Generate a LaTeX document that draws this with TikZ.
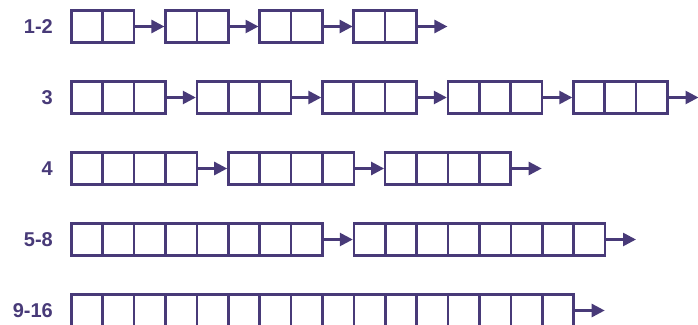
\documentclass[tikz,border=0pt]{standalone}
\usepackage{fontspec}
\setmainfont{Liberation Sans}
\usetikzlibrary{arrows.meta,calc}
\definecolor{listpurple}{RGB}{72,58,120}

\begin{document}
\begin{tikzpicture}[x=1pt, y=1pt,
  block/.style={draw=listpurple, line width=2.6pt, inner sep=0pt, outer sep=0pt,
                minimum height=32pt},
  divider/.style={listpurple, line width=2.6pt},
  arrow/.style={-{Triangle[length=13pt,width=13pt]}, line width=2.6pt, listpurple,
                shorten >=1pt},
  tag/.style={font=\bfseries\fontsize{20}{20}\selectfont, text=listpurple,
              anchor=east, inner sep=0pt},
]
\useasboundingbox (0,0) rectangle (698,-324);
\clip (0,0) rectangle (698,-324);

% one row per size class: label / cells per block / number of blocks
\foreach \lab/\n/\k [count=\i] in {1-2/2/4, 3/3/5, 4/4/3, 5-8/8/2, 9-16/16/1}{
  \pgfmathsetmacro\rowy{-26.5-71*(\i-1)}
  \pgfmathtruncatemacro\ncut{\n-1}
  \node[tag] (tag\i) at (53,\rowy) {\lab};
  \foreach \j in {1,...,\k}{
    \pgfmathsetmacro\bx{71.3+(\j-1)*(\n*31.4+31.3)+\n*31.4/2}
    \node[block, minimum width=\n*31.4pt] (b\i-\j) at (\bx,\rowy) {};
    \foreach \m in {1,...,\ncut}{
      \draw[divider] ($(b\i-\j.north west)+(\m*31.4,0)$)
                  -- ($(b\i-\j.south west)+(\m*31.4,0)$);
    }
  }
  \foreach \j in {1,...,\k}{
    \pgfmathtruncatemacro\jn{\j+1}
    \ifnum\j<\k
      \draw[arrow] (b\i-\j) -- (b\i-\jn);
    \fi
  }
  \coordinate (end\i) at ($(b\i-\k.east)+(32,0)$);
  \draw[arrow] (b\i-\k) -- (end\i);
}

\end{tikzpicture}
\end{document}
